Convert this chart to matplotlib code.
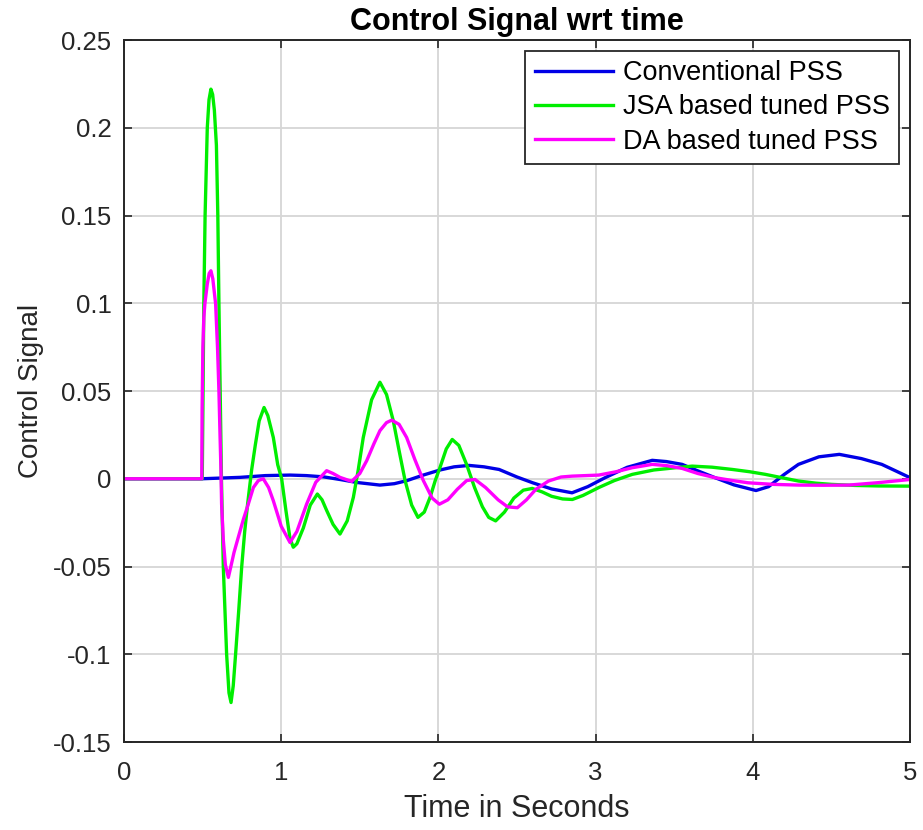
import matplotlib
matplotlib.use("Agg")
import matplotlib.pyplot as plt

plt.rcParams['font.family'] = ['Liberation Sans', 'DejaVu Sans']

# Conventional PSS (blue)
t_conv = [0, 0.495, 0.738, 0.900, 1.056, 1.160, 1.268, 1.380, 1.480, 1.628, 1.720, 1.798,
          1.900, 2.010, 2.100, 2.195, 2.290, 2.386, 2.500, 2.600, 2.720, 2.850, 2.950,
          3.060, 3.200, 3.360, 3.450, 3.550, 3.650, 3.760, 3.880, 4.020, 4.100, 4.200,
          4.290, 4.420, 4.550, 4.690, 4.820, 4.920, 5.000]
y_conv = [0, 0, 0.0008, 0.0018, 0.0021, 0.0018, 0.0011, -0.0005, -0.0021, -0.0036, -0.0028, -0.0011,
          0.0020, 0.0050, 0.0068, 0.0076, 0.0068, 0.0053, 0.0010, -0.0023, -0.0058, -0.0080, -0.0045,
          0.0006, 0.0065, 0.0105, 0.0098, 0.0082, 0.0045, 0.0006, -0.0035, -0.0067, -0.0045, 0.0025,
          0.0082, 0.0125, 0.0139, 0.0115, 0.0082, 0.0040, 0.0006]

# JSA based tuned PSS (green)
t_jsa = [0, 0.498, 0.503, 0.508, 0.516, 0.530, 0.541, 0.553, 0.564, 0.575, 0.588, 0.597,
         0.604, 0.612, 0.620, 0.632, 0.653, 0.668, 0.681, 0.695, 0.710, 0.730, 0.749,
         0.768, 0.787, 0.812, 0.835, 0.860, 0.891, 0.915, 0.950, 0.978, 1.003, 1.030,
         1.056, 1.077, 1.100, 1.141, 1.185, 1.230, 1.260, 1.289, 1.330, 1.374, 1.420,
         1.459, 1.490, 1.522, 1.575, 1.628, 1.670, 1.713, 1.750, 1.788, 1.830, 1.870,
         1.910, 1.947, 1.980, 2.010, 2.050, 2.088, 2.130, 2.180, 2.230, 2.280, 2.320,
         2.364, 2.420, 2.480, 2.540, 2.597, 2.660, 2.720, 2.790, 2.852, 2.920, 3.020,
         3.120, 3.233, 3.370, 3.510, 3.614, 3.740, 3.870, 3.980, 4.080, 4.190, 4.290,
         4.400, 4.500, 4.650, 4.800, 5.000]
y_jsa = [0, 0, 0.050, 0.100, 0.150, 0.200, 0.216, 0.222, 0.219, 0.210, 0.190, 0.150,
         0.100, 0.050, 0.000, -0.0505, -0.100, -0.122, -0.1275, -0.118, -0.100, -0.075, -0.050,
         -0.030, -0.014, 0.005, 0.019, 0.033, 0.0406, 0.036, 0.0235, 0.008, 0.000, -0.018,
         -0.034, -0.039, -0.037, -0.028, -0.015, -0.0087, -0.012, -0.018, -0.026, -0.0315, -0.024,
         -0.0106, 0.005, 0.0235, 0.045, 0.055, 0.048, 0.033, 0.016, -0.001, -0.015, -0.022,
         -0.019, -0.0106, -0.001, 0.0064, 0.017, 0.0224, 0.019, 0.008, -0.005, -0.016, -0.022,
         -0.024, -0.019, -0.011, -0.0065, -0.0055, -0.0075, -0.010, -0.0115, -0.0118, -0.0095, -0.005,
         -0.001, 0.0025, 0.005, 0.0063, 0.0072, 0.0066, 0.0053, 0.004, 0.0025, 0.0005, -0.0013,
         -0.0025, -0.0032, -0.0038, -0.0041, -0.0042]

# DA based tuned PSS (magenta)
t_da = [0, 0.495, 0.497, 0.502, 0.508, 0.515, 0.530, 0.542, 0.553, 0.565, 0.583, 0.595,
        0.604, 0.611, 0.617, 0.621, 0.632, 0.645, 0.664, 0.680, 0.700, 0.727, 0.760,
        0.791, 0.823, 0.855, 0.886, 0.920, 0.950, 1.000, 1.056, 1.100, 1.162, 1.220,
        1.289, 1.330, 1.374, 1.448, 1.500, 1.544, 1.590, 1.628, 1.670, 1.703, 1.750,
        1.798, 1.850, 1.904, 1.960, 2.006, 2.060, 2.120, 2.180, 2.233, 2.300, 2.380,
        2.440, 2.502, 2.560, 2.620, 2.700, 2.780, 2.850, 3.020, 3.130, 3.233, 3.360,
        3.450, 3.550, 3.650, 3.760, 3.870, 3.970, 4.130, 4.290, 4.450, 4.610, 4.800,
        5.000]
y_da = [0, 0, 0.040, 0.075, 0.092, 0.100, 0.111, 0.117, 0.1185, 0.114, 0.0997, 0.075,
        0.050, 0.025, 0.0046, -0.0144, -0.035, -0.049, -0.0562, -0.050, -0.042, -0.0334, -0.023,
        -0.0144, -0.005, -0.001, 0.000, -0.005, -0.0125, -0.027, -0.0363, -0.030, -0.0144, -0.002,
        0.0046, 0.003, 0.0008, -0.0015, 0.003, 0.0103, 0.020, 0.0274, 0.032, 0.0334, 0.031,
        0.0235, 0.011, -0.001, -0.011, -0.0145, -0.012, -0.006, -0.001, -0.0004, -0.005, -0.012,
        -0.016, -0.0165, -0.012, -0.006, -0.0013, 0.001, 0.0015, 0.0021, 0.004, 0.0063, 0.0082,
        0.0075, 0.0059, 0.003, 0.0006, -0.001, -0.0023, -0.0032, -0.0036, -0.0037, -0.0036, -0.0022,
        -0.0004]

x_ticks = [0, 1, 2, 3, 4, 5]
y_ticks = [-0.15, -0.1, -0.05, 0, 0.05, 0.1, 0.15, 0.2, 0.25]
y_tick_labels = ['-0.15', '-0.1', '-0.05', '0', '0.05', '0.1', '0.15', '0.2', '0.25']

fig = plt.figure(figsize=(9.23, 8.3), dpi=100)
ax = fig.add_axes([0.1343, 0.106, 0.986 - 0.1343, 0.9518 - 0.106])

ax.plot(t_conv, y_conv, color='#0000e6', lw=2.4, label='Conventional PSS')
ax.plot(t_jsa, y_jsa, color='#00ee00', lw=2.4, label='JSA based tuned PSS')
ax.plot(t_da, y_da, color='#ff00ff', lw=2.4, label='DA based tuned PSS')

ax.set_xlim(0, 5)
ax.set_ylim(-0.15, 0.25)
ax.set_xticks(x_ticks)
ax.set_yticks(y_ticks)
ax.set_yticklabels(y_tick_labels)
ax.tick_params(direction='in', top=True, right=True, length=6, width=1.2,
               labelsize=18.5, colors='#262626', pad=9)
ax.tick_params(axis='x', pad=14)
ax.grid(True, color='#d6d6d6', lw=1.3)
ax.set_axisbelow(True)
for s in ax.spines.values():
    s.set_color('#262626')
    s.set_linewidth(1.4)

ax.set_xlabel('Time in Seconds', fontsize=22, color='#262626', labelpad=6)
ax.set_ylabel('Control Signal', fontsize=20, color='#262626', labelpad=6)
ax.set_title('Control Signal wrt time', fontsize=22, fontweight='bold', pad=7)

leg = ax.legend(loc='upper right', fontsize=19.5, handlelength=2.9, handletextpad=0.35,
                labelspacing=0.3, borderpad=0.35, fancybox=False, framealpha=1,
                borderaxespad=0.4)
leg.get_frame().set_edgecolor('#262626')
leg.get_frame().set_linewidth(1.3)

fig.savefig('out.png', dpi=100)
